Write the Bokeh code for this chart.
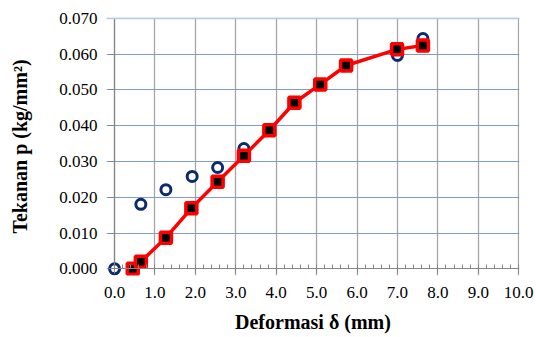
from bokeh.plotting import figure
from bokeh.models import Range1d, FixedTicker, CustomJSTickFormatter, LinearAxis, Span
from bokeh.embed import file_html
from bokeh.resources import INLINE

# ---- data ----
circ_x = [0.0, 0.65, 1.27, 1.92, 2.55, 3.2, 7.0, 7.63]
circ_y = [0.0, 0.0180, 0.0221, 0.0258, 0.0283, 0.0336, 0.0596, 0.0643]

sq_x = [0.45, 0.65, 1.27, 1.90, 2.55, 3.20, 3.83, 4.45, 5.09, 5.73, 6.99, 7.63]
sq_y = [0.0, 0.0020, 0.0087, 0.0169, 0.0243, 0.0316, 0.0387, 0.0464, 0.0515, 0.0568, 0.0613, 0.0624]

x_ticks = [0, 1, 2, 3, 4, 5, 6, 7, 8, 9, 10]
x_tick_labels = ["0.0", "1.0", "2.0", "3.0", "4.0", "5.0", "6.0", "7.0", "8.0", "9.0", "10.0"]
x_minor = [round(0.2 * i, 1) for i in range(51)]
y_ticks = [0.0, 0.01, 0.02, 0.03, 0.04, 0.05, 0.06, 0.07]
y_tick_labels = ["0.000", "0.010", "0.020", "0.030", "0.040", "0.050", "0.060", "0.070"]

x_label = "Deformasi δ (mm)"
y_label = "Tekanan p (kg/mm²)"

SERIF = "Liberation Serif"

p = figure(width=536, height=337, output_backend="svg", toolbar_location=None,
           x_range=Range1d(-0.2, 10.02), y_range=Range1d(-0.00187, 0.0702),
           min_border_left=106, min_border_right=17, min_border_top=17, min_border_bottom=62,
           background_fill_color="white", border_fill_color="white")
p.outline_line_color = None

fmt_code = """
let best = -1, bd = 1e99;
for (let i = 0; i < tvals.length; i++) {
  const d = Math.abs(tvals[i] - tick);
  if (d < bd) { bd = d; best = i; }
}
return (best >= 0 && bd < 1e-6) ? tlabs[best] : "";
"""

xticker = FixedTicker(ticks=x_ticks, minor_ticks=x_minor)
yticker = FixedTicker(ticks=y_ticks, minor_ticks=[])
axis_col = "#868686"

# main axes: only labels (tick marks / lines are drawn by the axes through the origin)
for ax, tk, tl in ((p.xaxis[0], x_ticks, x_tick_labels), (p.yaxis[0], y_ticks, y_tick_labels)):
    ax.ticker = FixedTicker(ticks=tk, minor_ticks=[])
    ax.formatter = CustomJSTickFormatter(args=dict(tvals=tk, tlabs=tl), code=fmt_code)
    ax.axis_line_color = None
    ax.major_tick_line_color = None
    ax.minor_tick_line_color = None
    ax.major_tick_in = 0
    ax.major_tick_out = 0
    ax.minor_tick_in = 0
    ax.minor_tick_out = 0
    ax.major_label_text_font = SERIF
    ax.major_label_text_font_size = "17px"
    ax.major_label_text_color = "black"
    ax.axis_label_text_font = SERIF
    ax.axis_label_text_font_style = "bold"
    ax.axis_label_text_font_size = "20px"
    ax.axis_label_text_color = "black"

xa = p.xaxis[0]
xa.major_label_standoff = 11
xa.axis_label = x_label
xa.axis_label_standoff = 10

ya = p.yaxis[0]
ya.major_label_standoff = 9
ya.axis_label = y_label
ya.axis_label_standoff = 25

# axes through the origin: line + tick marks only
empty_fmt = CustomJSTickFormatter(code="return ''")
ox = LinearAxis(ticker=xticker, formatter=empty_fmt, fixed_location=0, bounds=(0, 10),
                axis_line_color=axis_col, axis_line_width=1.2,
                major_tick_line_color=axis_col, major_tick_in=5, major_tick_out=0,
                minor_tick_line_color=axis_col, minor_tick_in=0, minor_tick_out=4,
                major_label_text_font_size="1px", major_label_standoff=0)
p.add_layout(ox, "above")
oy = LinearAxis(ticker=yticker, formatter=empty_fmt, fixed_location=0, bounds=(0, 0.07),
                axis_line_color=axis_col, axis_line_width=1.2,
                major_tick_line_color=axis_col, major_tick_in=6, major_tick_out=0,
                minor_tick_line_color=None, minor_tick_in=0, minor_tick_out=0,
                major_label_text_font_size="1px", major_label_standoff=0)
p.add_layout(oy, "right")

p.xgrid.ticker = xticker
p.xgrid.bounds = (-0.001, 10.001)
p.xgrid.grid_line_color = "#A6A6A6"
p.xgrid.grid_line_width = 1.3
p.ygrid.ticker = yticker
p.ygrid.bounds = (-0.0001, 0.0701)
p.ygrid.grid_line_color = "#7F9CCF"
p.ygrid.grid_line_width = 1.2

# lighter top border line of the plot area
p.add_layout(Span(location=y_ticks[-1], dimension="width", line_color="#B7CBE6", line_width=2))

p.scatter(circ_x, circ_y, marker="circle", size=10, fill_color="white",
          line_color="#0B2A6F", line_width=3)
p.line(sq_x, sq_y, line_color="#FF0000", line_width=3.5)
p.scatter(sq_x, sq_y, marker="square", size=11, fill_color="black",
          line_color="#FF0000", line_width=3.5)

open("out.html", "w").write(file_html(p, INLINE))
